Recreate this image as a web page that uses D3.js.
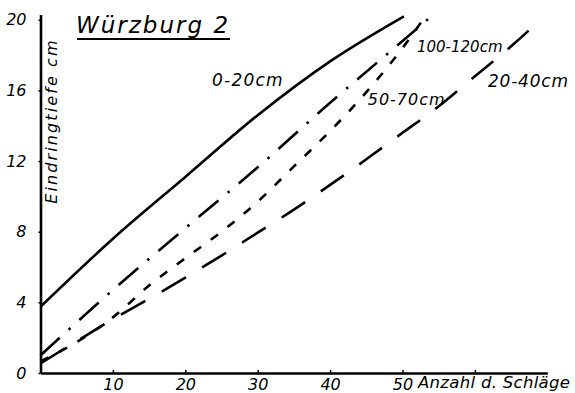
<!DOCTYPE html>
<html>
<head>
<meta charset="utf-8">
<script src="https://cdn.jsdelivr.net/npm/d3@7"></script>
<style>
  html, body { margin: 0; padding: 0; background: #fff; }
  svg { display: block; }
  text { font-family: "DejaVu Sans", sans-serif; font-style: italic; fill: #000; }
</style>
</head>
<body>
<svg id="chart" width="575" height="393"></svg>
<script>
// ---- data ----
const title = "Würzburg 2";
const xTitle = "Anzahl d. Schläge";
const yTitle = "Eindringtiefe cm";
const xTicks = [10, 20, 30, 40, 50, 60];
const xTickLabels = ["10", "20", "30", "40", "50", ""];
const yTicks = [0, 4, 8, 12, 16, 20];

const seriesNames = ["0-20cm", "20-40cm", "50-70cm", "100-120cm"];

const blows0_20 = [0, 10, 20, 30, 40, 50.2];
const depth0_20 = [3.75, 7.6, 11.1, 14.6, 17.65, 20.2];

const blows20_40 = [0, 5, 10, 15, 20, 25, 30, 35, 40, 45, 50, 55, 60, 65, 69.3];
const depth20_40 = [0.55, 1.8, 3.05, 4.2, 5.4, 6.65, 7.95, 9.25, 10.65, 12.1, 13.6, 15.1, 16.8, 18.5, 20.1];

const blows50_70 = [0, 5, 10, 15, 20, 25, 30, 35, 40, 45, 50, 53];
const depth50_70 = [0.65, 1.75, 3.15, 4.95, 6.5, 8.0, 9.7, 11.7, 13.7, 15.9, 18.4, 20.1];

const blows100_120 = [0, 10, 20, 30, 40, 50, 54];
const depth100_120 = [1.0, 4.7, 8.2, 11.65, 15.3, 18.8, 20.2];

// ---- chart ----
const svg = d3.select("#chart");
const x = d3.scaleLinear().domain([0, 70]).range([40.5, 547.3]);
const y = d3.scaleLinear().domain([0, 20.3]).range([373, 14.5]);

const seriesData = [
  { name: seriesNames[0], xs: blows0_20, ys: depth0_20, dash: null },
  { name: seriesNames[1], xs: blows20_40, ys: depth20_40, dash: "28,19" },
  { name: seriesNames[2], xs: blows50_70, ys: depth50_70, dash: "9,12" },
  { name: seriesNames[3], xs: blows100_120, ys: depth100_120, dash: "26,12,2.5,12" }
];

const line = d3.line()
  .x(d => x(d[0]))
  .y(d => y(d[1]))
  .curve(d3.curveMonotoneX);

svg.append("g").selectAll("path")
  .data(seriesData)
  .join("path")
  .attr("d", s => line(s.xs.map((v, i) => [v, s.ys[i]])))
  .attr("fill", "none")
  .attr("stroke", "#000")
  .attr("stroke-width", 2.6)
  .attr("stroke-dasharray", s => s.dash);

// x axis
const xAxis = svg.append("g")
  .attr("transform", `translate(0,${y(0)})`)
  .call(d3.axisBottom(x).tickValues(xTicks)
    .tickFormat((d, i) => xTickLabels[i])
    .tickSizeInner(-3).tickSizeOuter(0).tickPadding(6));
xAxis.select(".domain").attr("stroke", "#000").attr("stroke-width", 2.6);
xAxis.selectAll(".tick line").attr("stroke", "#000").attr("stroke-width", 1.5);
xAxis.selectAll(".tick text")
  .attr("font-size", 16).attr("font-family", "DejaVu Sans").attr("font-style", "italic");

// y axis
const yAxis = svg.append("g")
  .attr("transform", `translate(${x(0)},0)`)
  .call(d3.axisLeft(y).tickValues(yTicks)
    .tickSizeInner(2).tickSizeOuter(0).tickPadding(12));
yAxis.select(".domain").attr("stroke", "#000").attr("stroke-width", 2.6);
yAxis.selectAll(".tick line").attr("stroke", "#000").attr("stroke-width", 1.5);
yAxis.selectAll(".tick text")
  .attr("font-size", 16).attr("font-family", "DejaVu Sans").attr("font-style", "italic");

// axis titles
svg.append("text")
  .attr("x", 418).attr("y", 388)
  .attr("font-size", 16.5)
  .attr("letter-spacing", 0.3)
  .text(xTitle);

svg.append("text")
  .attr("transform", `translate(57,${121}) rotate(-90)`)
  .attr("text-anchor", "middle")
  .attr("font-size", 16)
  .attr("letter-spacing", 2.1)
  .text(yTitle);

// title with underline
svg.append("text")
  .attr("x", 76).attr("y", 33)
  .attr("font-size", 23)
  .attr("letter-spacing", 2)
  .text(title);
svg.append("line")
  .attr("x1", 77).attr("x2", 230).attr("y1", 39).attr("y2", 39)
  .attr("stroke", "#000").attr("stroke-width", 2.2);

// curve labels
const labels = [
  { text: seriesNames[0], bx: 23.7, by: 16.25, size: 17, ls: 1.2 },
  { text: seriesNames[1], bx: 61.8, by: 16.2, size: 17, ls: 0.8 },
  { text: seriesNames[2], bx: 45.2, by: 15.2, size: 16, ls: 1 },
  { text: seriesNames[3], bx: 52.0, by: 18.2, size: 15, ls: 0 }
];
svg.append("g").selectAll("text")
  .data(labels)
  .join("text")
  .attr("x", d => x(d.bx))
  .attr("y", d => y(d.by))
  .attr("font-size", d => d.size)
  .attr("letter-spacing", d => d.ls)
  .text(d => d.text);
</script>
</body>
</html>
